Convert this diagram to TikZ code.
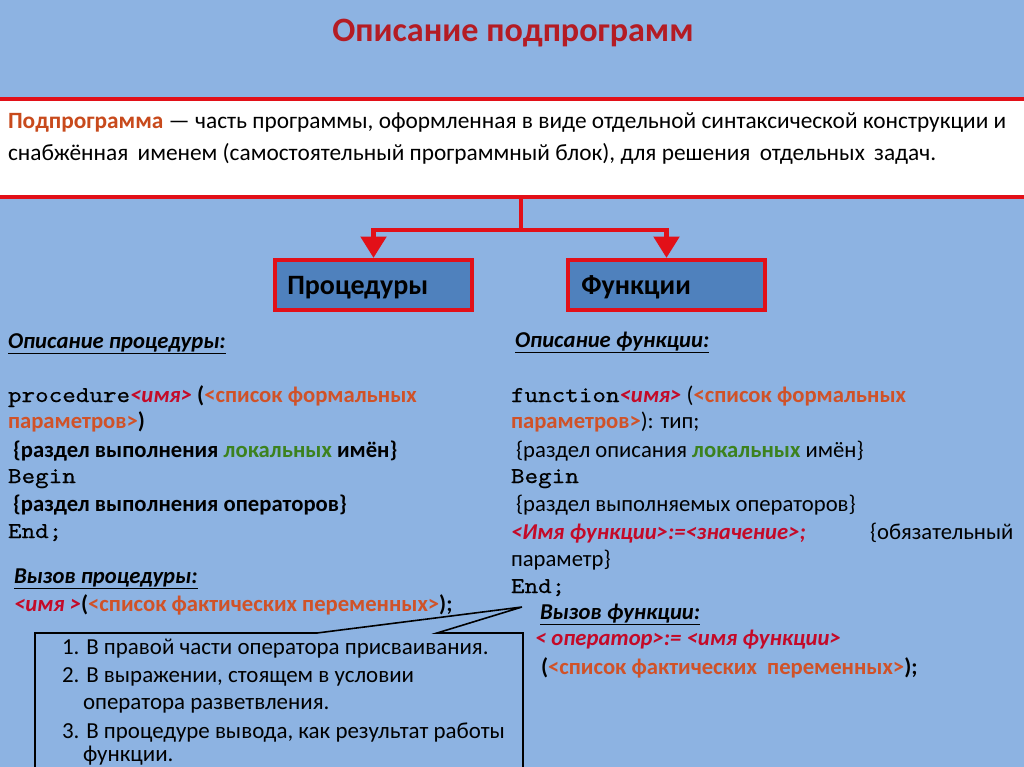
\documentclass[tikz,border=0pt]{standalone}
\usepackage{fontspec}
\setmainfont{Carlito}
\newfontfamily\mono{lmmono10-regular}[Extension=.otf,FakeStretch=1.14,FakeBold=0.6]
\usetikzlibrary{arrows.meta}
\definecolor{bg}{RGB}{141,179,226}
\definecolor{lred}{RGB}{226,16,24}
\definecolor{boxblue}{RGB}{79,129,189}
\definecolor{titlered}{RGB}{180,28,36}
\definecolor{dred}{RGB}{196,10,40}
\definecolor{orng}{RGB}{208,82,40}
\definecolor{hdr}{RGB}{200,74,28}
\definecolor{grn}{RGB}{60,130,30}
\newcommand{\nm}[1]{{\color{dred}\bfseries\itshape #1}}
\newcommand{\og}[1]{{\color{orng}\bfseries #1}}
\newcommand{\gr}[1]{{\color{grn}\bfseries #1}}
\newcommand{\hd}[1]{{\bfseries\itshape\underline{#1}}}
\begin{document}
\begin{tikzpicture}[x=0.75pt,y=-0.75pt,
  txt/.style={anchor=base west,inner sep=0pt,outer sep=0pt,font=\fontsize{17}{20}\selectfont},
  cal/.style={anchor=base west,inner sep=0pt,outer sep=0pt,font=\fontsize{17.2}{20}\selectfont},
  redline/.style={draw=lred,line width=3.2pt},
  catbox/.style={draw=lred,line width=3.2pt,fill=boxblue,minimum width=147.75pt,minimum height=37.5pt,inner sep=0pt},
  cattext/.style={anchor=base west,inner sep=0pt,font=\bfseries\fontsize{21}{24}\selectfont}]
\fill[bg] (0,0) rectangle (1024,767);
\useasboundingbox (0,0) rectangle (1024,767);
% title
\node[anchor=base,inner sep=0pt,font=\bfseries\fontsize{25.6}{30}\selectfont,text=titlered] (title) at (513,42) {Описание подпрограмм};
% definition box
\node[fill=white,inner sep=0pt,minimum width=780pt,minimum height=73.5pt] (def) at (512,148) {};
\draw[redline] (def.north west) -- (def.north east);
\draw[redline] (def.south west) -- (def.south east);
\node[txt,font=\fontsize{17.5}{20}\selectfont] (d1) at (8,128) {{\color{hdr}\bfseries Подпрограмма} — часть программы, оформленная в виде отдельной синтаксической конструкции и};
\node[txt,font=\fontsize{17.5}{20}\selectfont] (d2) at (8,160) {снабжённая\hspace{3pt} именем (самостоятельный программный блок), для решения\hspace{3pt} отдельных\hspace{3pt} задач.};
% category boxes
\node[catbox] (proc) at (373.5,285) {};
\node[cattext] (proct) at (287,294) {Процедуры};
\node[catbox] (func) at (666.5,285) {};
\node[cattext] (funct) at (581,294) {Функции};
% connectors
\coordinate (j) at (521,230);
\draw[redline] (def.south -| j) -- (j);
\draw[redline,-{Triangle[width=19pt,length=16pt]}] (j) -| (proc.north);
\draw[redline,-{Triangle[width=19pt,length=16pt]}] (j) -| (func.north);
% procedure description
\node[txt] (p0) at (8,348) {\hd{Описание процедуры:}};
\node[txt] (p1) at (8,402) {{\mono procedure}\nm{<имя>} {\bfseries(}\og{<список формальных}};
\node[txt] (p2) at (8,428) {\og{параметров>}{\bfseries)}};
\node[txt] (p3) at (8,457) {\bfseries\ \{раздел выполнения \gr{локальных} имён\}};
\node[txt] (p4) at (8,483) {\mono Begin};
\node[txt] (p5) at (8,511) {\bfseries\ \{раздел выполнения операторов\}};
\node[txt] (p6) at (8,538) {\mono End;};
\node[txt] (p7) at (14,583) {\hd{Вызов процедуры:}};
\node[txt] (p8) at (14,611) {\nm{<имя >}{\bfseries(}\og{<список фактических переменных>}{\bfseries);}};
% function description
\node[txt] (f0) at (515,347) {\hd{Описание функции:}};
\node[txt] (f1) at (511,402) {{\mono function}\nm{<имя>} (\og{<список формальных}};
\node[txt] (f2) at (511,428) {\og{параметров>}): тип;};
\node[txt] (f3) at (511,457) {\ \{раздел описания \gr{локальных} имён\}};
\node[txt] (f4) at (511,483) {\mono Begin};
\node[txt] (f5) at (511,511) {\ \{раздел выполняемых операторов\}};
\node[txt] (f6) at (511,539) {\nm{<Имя функции>:=<значение>;}};
\node[txt] (f6b) at (870,539) {\{обязательный};
\node[txt] (f7) at (511,566) {параметр\}};
\node[txt] (f8) at (511,593) {\mono End;};
\node[txt] (f9) at (540,619) {\hd{Вызов функции:}};
\node[txt] (f10) at (535,645) {\nm{< оператор>:= <имя функции>}};
\node[txt] (f11) at (541,674) {{\bfseries(}\og{<список фактических\ \ переменных>}{\bfseries);}};
% callout
\coordinate (tip) at (522,607);
\coordinate (bl) at (35,775);
\coordinate (br) at (523,775);
\draw[black,line width=1.2pt] (bl) -- (35,633) -- (317,633) -- (tip) -- (437,633) -- (523,633) -- (br);
\node[cal] (c1) at (62,654) {1. В правой части оператора присваивания.};
\node[cal] (c2) at (62,682) {2. В выражении, стоящем в условии};
\node[cal] (c3) at (83,709) {оператора разветвления.};
\node[cal] (c4) at (62,738) {3. В процедуре вывода, как результат работы};
\node[cal] (c5) at (83,761) {функции.};
\end{tikzpicture}
\end{document}
